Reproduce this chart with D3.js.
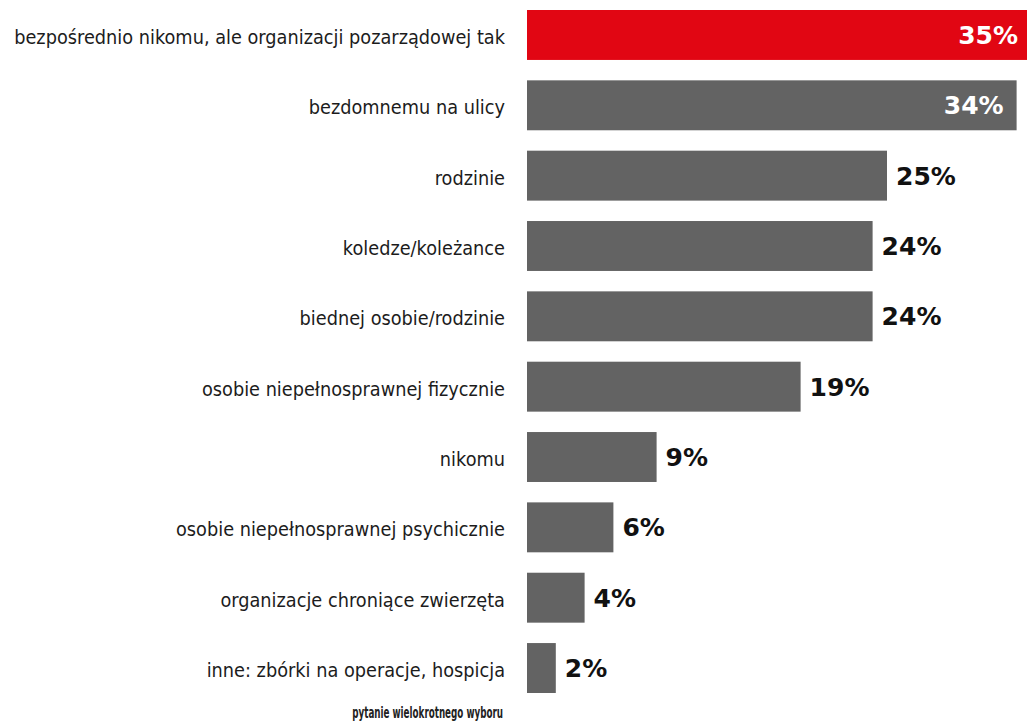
<!DOCTYPE html>
<html>
<head>
<meta charset="utf-8">
<script src="https://cdn.jsdelivr.net/npm/d3@7"></script>
<style>
  body { margin: 0; background: #fff; }
  svg { display: block; }
</style>
</head>
<body>
<div id="chart"></div>
<script>
const categories = [
    "bezpośrednio nikomu, ale organizacji pozarządowej tak",
    "bezdomnemu na ulicy",
    "rodzinie",
    "koledze/koleżance",
    "biednej osobie/rodzinie",
    "osobie niepełnosprawnej fizycznie",
    "nikomu",
    "osobie niepełnosprawnej psychicznie",
    "organizacje chroniące zwierzęta",
    "inne: zbórki na operacje, hospicja"
];
const values = [35, 34, 25, 24, 24, 19, 9, 6, 4, 2];
const highlighted = [true, false, false, false, false, false, false, false, false, false];
const note = "pytanie wielokrotnego wyboru";

const width = 1027;
const height = 722;
const barLeft = 527;
const labelRight = 505;

const svg = d3.select("#chart")
    .append("svg")
    .attr("width", width)
    .attr("height", height);

const x = d3.scaleLinear()
    .domain([0, 35])
    .range([barLeft, barLeft + 504]);

const y = d3.scaleBand()
    .domain(categories)
    .range([10, 693])
    .paddingInner(0.29)
    .paddingOuter(0);

const rows = categories.map(function (c, i) {
    return { category: c, value: values[i], red: highlighted[i] };
});

svg.selectAll("rect.bar")
    .data(rows)
    .enter()
    .append("rect")
    .attr("class", "bar")
    .attr("x", x(0))
    .attr("y", function (d) { return y(d.category); })
    .attr("width", function (d) { return x(d.value) - x(0); })
    .attr("height", y.bandwidth())
    .attr("fill", function (d) { return d.red ? "#e10613" : "#636363"; });

const cats = svg.selectAll("text.cat")
    .data(rows)
    .enter()
    .append("text")
    .attr("class", "cat")
    .text(function (d) { return d.category; })
    .attr("x", 0)
    .attr("y", 0)
    .attr("dy", "0.48em")
    .attr("text-anchor", "end")
    .attr("font-family", "'DejaVu Sans', sans-serif")
    .attr("font-size", 19)
    .attr("fill", "#1c1c1c");

// the longest label runs from x=14 to the right edge in the reference
let longest = 0;
cats.each(function () { longest = Math.max(longest, this.getComputedTextLength()); });
const sx = 491 / longest;
cats.attr("transform", function (d) {
    return "translate(" + labelRight + "," + (y(d.category) + y.bandwidth() / 2) + ") scale(" + sx + ",1)";
});

const vals = svg.selectAll("text.val")
    .data(rows)
    .enter()
    .append("text")
    .attr("class", "val")
    .text(function (d) { return d.value + "%"; })
    .attr("y", function (d) { return y(d.category) + y.bandwidth() / 2; })
    .attr("dy", "0.36em")
    .attr("font-family", "'DejaVu Sans', sans-serif")
    .attr("font-weight", 700)
    .attr("font-size", 25);

vals.each(function (d) {
    const t = d3.select(this);
    const w = this.getComputedTextLength();
    const end = x(d.value);
    if (end + 9 + w > width) {
        t.attr("x", Math.min(end, width + 4) - 13)
            .attr("text-anchor", "end")
            .attr("fill", "#fff");
    } else {
        t.attr("x", end + 9)
            .attr("text-anchor", "start")
            .attr("fill", "#111");
    }
});

const foot = svg.append("text")
    .text(note)
    .attr("text-anchor", "end")
    .attr("font-family", "'DejaVu Sans', sans-serif")
    .attr("font-weight", 600)
    .attr("font-size", 15)
    .attr("fill", "#222");
const fx = 151 / foot.node().getComputedTextLength();
foot.attr("transform", "translate(503,718) scale(" + fx + ",1)");
</script>
</body>
</html>
